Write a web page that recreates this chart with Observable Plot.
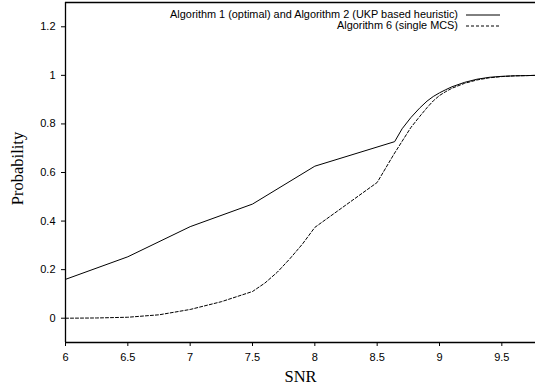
<!DOCTYPE html>
<html>
<head>
<meta charset="utf-8">
<script src="https://cdn.jsdelivr.net/npm/d3@7"></script>
<script src="https://cdn.jsdelivr.net/npm/@observablehq/plot@0.6"></script>
<style>
  html, body { margin: 0; padding: 0; background: #fff; }
  #wrap { position: relative; width: 535px; height: 388px; overflow: hidden; }
  #legend { position: absolute; top: 9px; right: 35px; font-family: "Liberation Sans", Arial, sans-serif; font-size: 10.9px; color: #000; }
  #legend .row { display: flex; align-items: center; justify-content: flex-end; height: 11px; line-height: 11px; }
  #legend svg { margin-left: 8px; }
</style>
</head>
<body>
<div id="wrap"></div>
<script>
// Series: Algorithm 1 (optimal) and Algorithm 2 (UKP based heuristic)
const solidX = [6, 6.5, 7, 7.5, 8, 8.64, 8.7, 8.77, 8.84, 8.9, 8.95, 9.0, 9.05, 9.1, 9.2, 9.3, 9.4, 9.5, 9.6, 9.7, 9.77];
const solidY = [0.16, 0.253, 0.377, 0.47, 0.626, 0.727, 0.78, 0.826, 0.865, 0.894, 0.913, 0.928, 0.941, 0.953, 0.971, 0.984, 0.992, 0.996, 0.998, 0.999, 1.0];
// Series: Algorithm 6 (single MCS)
const dashX = [6, 6.25, 6.5, 6.75, 7, 7.25, 7.5, 7.6, 7.7, 7.8, 7.9, 8, 8.5, 8.635, 8.77, 8.84, 8.9, 8.95, 9.0, 9.05, 9.1, 9.2, 9.3, 9.4, 9.5, 9.6, 9.7, 9.77];
const dashY = [0, 0.001, 0.004, 0.014, 0.036, 0.068, 0.11, 0.145, 0.19, 0.245, 0.305, 0.374, 0.559, 0.676, 0.785, 0.83, 0.867, 0.895, 0.917, 0.933, 0.947, 0.967, 0.981, 0.99, 0.995, 0.998, 0.999, 1.0];
const seriesNames = ["Algorithm 1 (optimal) and Algorithm 2 (UKP based heuristic)", "Algorithm 6 (single MCS)"];
const xTicks = [6, 6.5, 7, 7.5, 8, 8.5, 9, 9.5];
const yTicks = [0, 0.2, 0.4, 0.6, 0.8, 1, 1.2];
const xLabel = "SNR";
const yLabel = "Probability";

const solid = solidX.map((x, i) => ({x, y: solidY[i]}));
const dashed = dashX.map((x, i) => ({x, y: dashY[i]}));

const serif = "'Liberation Serif', 'Times New Roman', serif";
const plot = Plot.plot({
  width: 535,
  height: 388,
  marginLeft: 65,
  marginRight: 0,
  marginTop: 2,
  marginBottom: 46,
  style: {fontFamily: "'Liberation Sans', Arial, sans-serif", fontSize: "11px", color: "#000", background: "#fff", overflow: "visible"},
  x: {domain: [6, 9.77]},
  y: {domain: [-0.1, 1.3]},
  marks: [
    Plot.axisX({ticks: xTicks, tickSize: 4, tickPadding: 7, label: null, tickFormat: d => String(d), fontSize: 11}),
    Plot.axisY({ticks: yTicks, tickSize: 4, tickPadding: 6, label: null, tickFormat: d => String(d), fontSize: 11}),
    Plot.ruleY([-0.1], {stroke: "#000", strokeWidth: 1.3}),
    Plot.ruleY([1.3], {stroke: "#000", strokeWidth: 1.3}),
    Plot.ruleX([6], {stroke: "#000", strokeWidth: 1.3}),
    Plot.line(solid, {x: "x", y: "y", stroke: "#000", strokeWidth: 1, curve: "linear"}),
    Plot.line(dashed, {x: "x", y: "y", stroke: "#000", strokeWidth: 1, strokeDasharray: "3,2", curve: "linear"}),
    Plot.text([xLabel], {frameAnchor: "bottom", textAnchor: "middle", lineAnchor: "middle", dy: 34, text: d => d, fontFamily: serif, fontSize: 16.5, fill: "#000"}),
    Plot.text([yLabel], {frameAnchor: "left", textAnchor: "middle", lineAnchor: "middle", dx: -48, dy: -4, rotate: -90, text: d => d, fontFamily: serif, fontSize: 16.5, fill: "#000"})
  ]
});

const wrap = document.getElementById("wrap");
wrap.appendChild(plot);

const legend = document.createElement("div");
legend.id = "legend";
const dashes = ["none", "3,2"];
seriesNames.forEach((name, i) => {
  const row = document.createElement("div");
  row.className = "row";
  const span = document.createElement("span");
  span.textContent = name;
  row.appendChild(span);
  const svg = d3.create("svg").attr("width", 34).attr("height", 6);
  svg.append("line").attr("x1", 0).attr("x2", 34).attr("y1", 3).attr("y2", 3)
    .attr("stroke", "#000").attr("stroke-width", 1).attr("stroke-dasharray", dashes[i]);
  row.appendChild(svg.node());
  legend.appendChild(row);
});
wrap.appendChild(legend);
</script>
</body>
</html>
